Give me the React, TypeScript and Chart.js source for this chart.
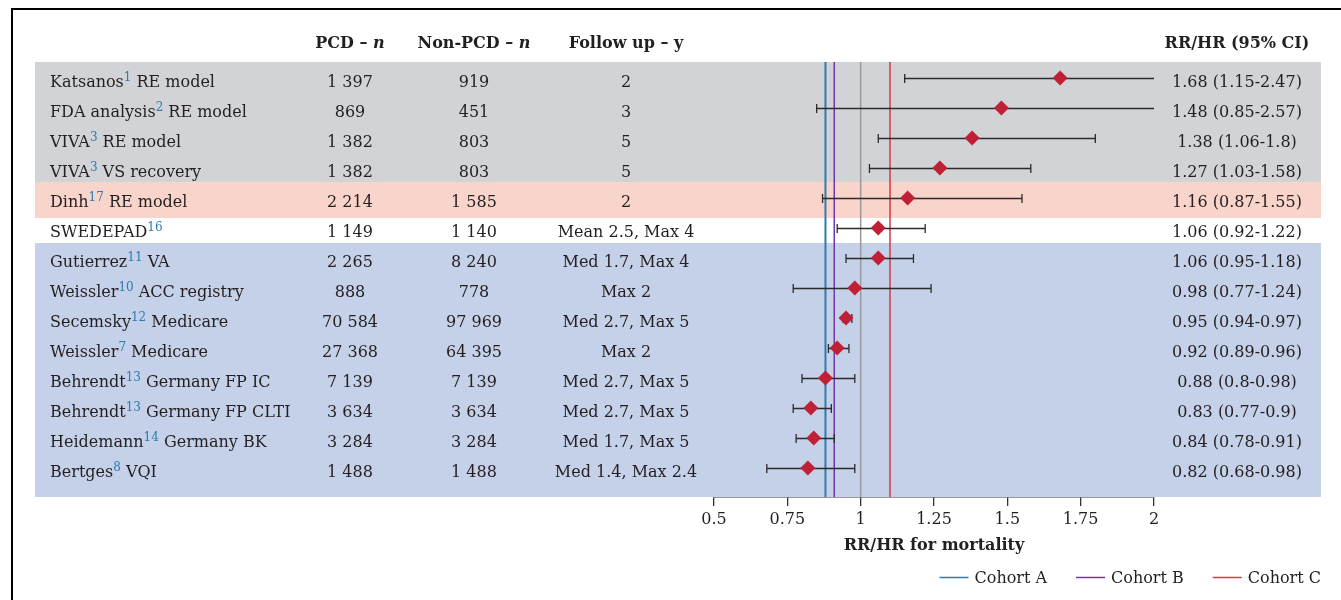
import React, { useEffect, useRef } from 'react';
import { Chart, registerables } from 'chart.js';

Chart.register(...registerables);

// ---------- data ----------
const studyNames = ['Katsanos', 'FDA analysis', 'VIVA', 'VIVA', 'Dinh', 'SWEDEPAD', 'Gutierrez', 'Weissler', 'Secemsky', 'Weissler', 'Behrendt', 'Behrendt', 'Heidemann', 'Bertges'];
const studyRefs = ['1', '2', '3', '3', '17', '16', '11', '10', '12', '7', '13', '13', '14', '8'];
const studyDetails = ['RE model', 'RE model', 'RE model', 'VS recovery', 'RE model', '', 'VA', 'ACC registry', 'Medicare', 'Medicare', 'Germany FP IC', 'Germany FP CLTI', 'Germany BK', 'VQI'];
const pcdN = ['1 397', '869', '1 382', '1 382', '2 214', '1 149', '2 265', '888', '70 584', '27 368', '7 139', '3 634', '3 284', '1 488'];
const nonPcdN = ['919', '451', '803', '803', '1 585', '1 140', '8 240', '778', '97 969', '64 395', '7 139', '3 634', '3 284', '1 488'];
const followUp = ['2', '3', '5', '5', '2', 'Mean 2.5, Max 4', 'Med 1.7, Max 4', 'Max 2', 'Med 2.7, Max 5', 'Max 2', 'Med 2.7, Max 5', 'Med 2.7, Max 5', 'Med 1.7, Max 5', 'Med 1.4, Max 2.4'];
const estimates = [1.68, 1.48, 1.38, 1.27, 1.16, 1.06, 1.06, 0.98, 0.95, 0.92, 0.88, 0.83, 0.84, 0.82];
const ciLow = [1.15, 0.85, 1.06, 1.03, 0.87, 0.92, 0.95, 0.77, 0.94, 0.89, 0.8, 0.77, 0.78, 0.68];
const ciHigh = [2.47, 2.57, 1.8, 1.58, 1.55, 1.22, 1.18, 1.24, 0.97, 0.96, 0.98, 0.9, 0.91, 0.98];
const cohortLabels = ['Cohort A', 'Cohort B', 'Cohort C'];
const cohortValues = [0.88, 0.91, 1.1];
const nullEffect = 1;
const xTickValues = [0.5, 0.75, 1, 1.25, 1.5, 1.75, 2];
const xTickLabels = ['0.5', '0.75', '1', '1.25', '1.5', '1.75', '2'];
const xAxisTitle = 'RR/HR for mortality';
const ciHeader = 'RR/HR (95% CI)';

// ---------- styles ----------
const FONT = '"DejaVu Serif", serif';
const FS = 16;
const TEXT = '#231f20';
const REF_BLUE = '#2a7cb3';
const cohortColors = ['#2f7bb0', '#7137a8', '#d23a48'];
const NULL_COLOR = '#9a9a9a';
const DIAMOND = '#c01f36';
const BAR = '#2b2b2b';
const Y_MIN = -0.533;
const Y_MAX = 13.967;
const bands = [
  { from: Y_MIN, to: 3.467, color: '#d1d3d6' },
  { from: 3.467, to: 4.667, color: '#f9d4cb' },
  { from: 5.5, to: Y_MAX, color: '#c5d1e8' },
];
const BAND_LEFT = 35;
const BAND_RIGHT = 1321;
const COL_NAME = 50;
const COL_PCD = 350;
const COL_NON = 474;
const COL_FU = 626;
const COL_CI = 1237;
const HEADER_Y = 48;

const fmt = (v: number) => String(v);

const drawPieces = (ctx: CanvasRenderingContext2D, pieces: { t: string; font: string; color?: string; dy?: number }[], x: number, y: number, align: 'left' | 'center') => {
  let total = 0;
  pieces.forEach((p) => { ctx.font = p.font; total += ctx.measureText(p.t).width; });
  let cx = align === 'center' ? x - total / 2 : x;
  ctx.textAlign = 'left';
  pieces.forEach((p) => {
    ctx.font = p.font;
    ctx.fillStyle = p.color || TEXT;
    ctx.fillText(p.t, cx, y + (p.dy || 0));
    cx += ctx.measureText(p.t).width;
  });
};

const forestPlugin = {
  id: 'forestPlugin',
  beforeDatasetsDraw(chart: any) {
    const { ctx } = chart;
    const y = chart.scales.y;
    ctx.save();
    bands.forEach((b) => {
      const t = y.getPixelForValue(b.from);
      const btm = y.getPixelForValue(b.to);
      ctx.fillStyle = b.color;
      ctx.fillRect(BAND_LEFT, t, BAND_RIGHT - BAND_LEFT, btm - t);
    });
    ctx.restore();
  },
  beforeDatasetDraw(chart: any, args: any) {
    if (args.index !== 0) return;
    const { ctx } = chart;
    const x = chart.scales.x;
    const y = chart.scales.y;
    ctx.save();
    ctx.strokeStyle = BAR;
    ctx.lineWidth = 1.3;
    estimates.forEach((_, i) => {
      const py = Math.round(y.getPixelForValue(i)) + 0.5;
      const lo = Math.max(ciLow[i], x.min);
      const hi = Math.min(ciHigh[i], x.max);
      const x1 = x.getPixelForValue(lo);
      const x2 = x.getPixelForValue(hi);
      ctx.beginPath();
      ctx.moveTo(x1, py);
      ctx.lineTo(x2, py);
      if (ciLow[i] >= x.min) { ctx.moveTo(x1, py - 4.5); ctx.lineTo(x1, py + 4.5); }
      if (ciHigh[i] <= x.max) { ctx.moveTo(x2, py - 4.5); ctx.lineTo(x2, py + 4.5); }
      ctx.stroke();
    });
    ctx.restore();
  },
  afterDraw(chart: any) {
    const { ctx } = chart;
    const y = chart.scales.y;
    const reg = `${FS}px ${FONT}`;
    const bold = `bold ${FS}px ${FONT}`;
    const boldIt = `italic bold ${FS}px ${FONT}`;
    const sup = `12px ${FONT}`;
    ctx.save();
    ctx.textBaseline = 'alphabetic';
    // headers
    drawPieces(ctx, [{ t: 'PCD \u2013 ', font: bold }, { t: 'n', font: boldIt }], COL_PCD, HEADER_Y, 'center');
    drawPieces(ctx, [{ t: 'Non-PCD \u2013 ', font: bold }, { t: 'n', font: boldIt }], COL_NON, HEADER_Y, 'center');
    drawPieces(ctx, [{ t: 'Follow up \u2013 y', font: bold }], COL_FU, HEADER_Y, 'center');
    drawPieces(ctx, [{ t: ciHeader, font: bold }], COL_CI, HEADER_Y, 'center');
    // rows
    studyNames.forEach((name, i) => {
      const py = y.getPixelForValue(i) + 9;
      const pieces: any[] = [
        { t: name, font: reg },
        { t: studyRefs[i], font: sup, color: REF_BLUE, dy: -6 },
      ];
      if (studyDetails[i]) pieces.push({ t: ' ' + studyDetails[i], font: reg });
      drawPieces(ctx, pieces, COL_NAME, py, 'left');
      drawPieces(ctx, [{ t: pcdN[i], font: reg }], COL_PCD, py, 'center');
      drawPieces(ctx, [{ t: nonPcdN[i], font: reg }], COL_NON, py, 'center');
      drawPieces(ctx, [{ t: followUp[i], font: reg }], COL_FU, py, 'center');
      drawPieces(ctx, [{ t: `${fmt(estimates[i])} (${fmt(ciLow[i])}-${fmt(ciHigh[i])})`, font: reg }], COL_CI, py, 'center');
    });
    // legend (right aligned)
    ctx.font = reg;
    let right = BAND_RIGHT;
    const legendY = 583;
    for (let k = cohortLabels.length - 1; k >= 0; k--) {
      const w = ctx.measureText(cohortLabels[k]).width;
      const textX = right - w;
      ctx.fillStyle = TEXT;
      ctx.textAlign = 'left';
      ctx.fillText(cohortLabels[k], textX, legendY);
      const lineEnd = textX - 6;
      ctx.strokeStyle = cohortColors[k];
      ctx.lineWidth = 1.5;
      ctx.beginPath();
      ctx.moveTo(lineEnd - 29, legendY - 5.5);
      ctx.lineTo(lineEnd, legendY - 5.5);
      ctx.stroke();
      right = lineEnd - 29 - 29;
    }
    // frame
    ctx.strokeStyle = '#000';
    ctx.lineWidth = 2;
    ctx.beginPath();
    ctx.moveTo(1341, 9);
    ctx.lineTo(12, 9);
    ctx.lineTo(12, 600);
    ctx.stroke();
    ctx.restore();
  },
};

export default function App() {
  const ref = useRef<HTMLCanvasElement | null>(null);
  useEffect(() => {
    if (!ref.current) return;
    const vLine = (v: number) => [{ x: v, y: Y_MIN }, { x: v, y: Y_MAX }];
    const chart = new Chart(ref.current, {
      type: 'scatter',
      data: {
        datasets: [
          {
            label: 'Estimate',
            data: estimates.map((v, i) => ({ x: v, y: i })),
            pointStyle: 'rectRot',
            pointRadius: 7.5,
            pointHoverRadius: 7.5,
            backgroundColor: DIAMOND,
            borderColor: DIAMOND,
            borderWidth: 0,
          },
          ...cohortValues.map((v, k) => ({
            type: 'line' as const,
            label: cohortLabels[k],
            data: vLine(v),
            borderColor: cohortColors[k],
            borderWidth: k === 0 ? 2 : 1.5,
            pointRadius: 0,
            showLine: true,
          })),
          {
            type: 'line' as const,
            label: 'Null',
            data: vLine(nullEffect),
            borderColor: NULL_COLOR,
            borderWidth: 1.5,
            pointRadius: 0,
            showLine: true,
          },
        ],
      },
      options: {
        animation: false,
        responsive: false,
        events: [],
        layout: { padding: { left: 714, right: 187, top: 62, bottom: 0 } },
        plugins: { legend: { display: false }, tooltip: { enabled: false }, title: { display: false } },
        scales: {
          x: {
            type: 'linear',
            min: 0.5,
            max: 2,
            afterBuildTicks: (s: any) => { s.ticks = xTickValues.map((v) => ({ value: v })); },
            afterFit: (s: any) => { s.height = 103; },
            ticks: {
              autoSkip: false,
              maxRotation: 0,
              padding: 4,
              color: TEXT,
              font: { family: FONT, size: FS },
              callback: (v: any) => { const idx = xTickValues.indexOf(Number(v)); return idx >= 0 ? xTickLabels[idx] : ''; },
            },
            grid: { drawOnChartArea: false, drawTicks: true, tickLength: 9, color: '#333', lineWidth: 1.3 },
            border: { display: true, color: '#333', width: 1.5 },
            title: { display: true, text: xAxisTitle, color: TEXT, font: { family: FONT, size: FS, weight: 'bold' }, padding: { top: 0, bottom: 45 } },
          },
          y: { type: 'linear', reverse: true, min: Y_MIN, max: Y_MAX, display: false },
        },
      },
      plugins: [forestPlugin],
    } as any);
    return () => chart.destroy();
  }, []);
  return (
    <div style={{ position: 'fixed', left: 0, top: 0, width: 1341, height: 600, background: '#fff' }}>
      <canvas ref={ref} width={1341} height={600} style={{ display: 'block' }} />
    </div>
  );
}
